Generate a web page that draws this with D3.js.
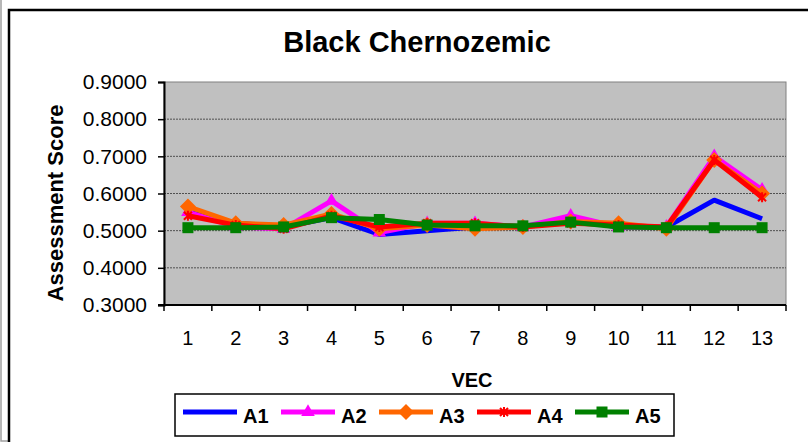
<!DOCTYPE html>
<html>
<head>
<meta charset="utf-8">
<script src="https://cdn.jsdelivr.net/npm/d3@7"></script>
<style>
  html, body { margin: 0; padding: 0; background: #fff; }
  svg { display: block; font-family: "Liberation Sans", Arial, sans-serif; }
</style>
</head>
<body>
<svg id="chart" width="808" height="442"></svg>
<script>
// VEC categories and assessment scores per alternative
const categories = ["1","2","3","4","5","6","7","8","9","10","11","12","13"];
const seriesNames = ["A1","A2","A3","A4","A5"];
const A1 = [0.550, 0.520, 0.510, 0.535, 0.490, 0.500, 0.510, 0.510, 0.530, 0.510, 0.510, 0.582, 0.532];
const A2 = [0.550, 0.510, 0.505, 0.580, 0.495, 0.520, 0.520, 0.510, 0.540, 0.510, 0.510, 0.700, 0.610];
const A3 = [0.565, 0.520, 0.515, 0.545, 0.505, 0.515, 0.505, 0.510, 0.525, 0.520, 0.505, 0.690, 0.600];
const A4 = [0.540, 0.515, 0.505, 0.540, 0.510, 0.520, 0.520, 0.510, 0.520, 0.515, 0.510, 0.690, 0.590];
const A5 = [0.508, 0.508, 0.510, 0.535, 0.530, 0.515, 0.513, 0.513, 0.523, 0.510, 0.508, 0.508, 0.508];
const yTicks = [0.3, 0.4, 0.5, 0.6, 0.7, 0.8, 0.9];
const colors = ["#0000ff", "#ff00ff", "#ff6600", "#ff0000", "#008000"];
const markers = ["none", "triangle", "diamond", "star", "square"];
const values = [A1, A2, A3, A4, A5];

const svg = d3.select("#chart");

// outer frame
svg.append("rect").attr("x", 1).attr("y", -5).attr("width", 820).attr("height", 446)
  .attr("fill", "none").attr("stroke", "#a0a0a0").attr("stroke-width", 1.5);
svg.append("rect").attr("x", 9).attr("y", 10).attr("width", 820).attr("height", 460)
  .attr("fill", "#fff").attr("stroke", "#000").attr("stroke-width", 2.5);

const plot = { left: 164, top: 82, right: 786, bottom: 305 };

const x = d3.scaleBand().domain(categories).range([plot.left, plot.right]);
const y = d3.scaleLinear().domain([0.3, 0.9]).range([plot.bottom, plot.top]);

// plot area
svg.append("rect").attr("x", plot.left).attr("y", plot.top)
  .attr("width", plot.right - plot.left).attr("height", plot.bottom - plot.top)
  .attr("fill", "#c0c0c0").attr("stroke", "#808080").attr("stroke-width", 1);

// gridlines
svg.append("g").selectAll("line").data(yTicks.filter(t => t > 0.3 && t < 0.9)).join("line")
  .attr("x1", plot.left).attr("x2", plot.right)
  .attr("y1", d => y(d)).attr("y2", d => y(d))
  .attr("stroke", "#505050").attr("stroke-width", 1).attr("stroke-dasharray", "2,1");

// y axis
const yAxis = svg.append("g").attr("transform", `translate(${plot.left},0)`)
  .call(d3.axisLeft(y).tickValues(yTicks).tickFormat(d3.format(".4f")).tickSize(6).tickPadding(11));
yAxis.attr("font-size", 21).attr("font-family", "Liberation Sans, Arial, sans-serif");
yAxis.select(".domain").attr("stroke", "#000").attr("stroke-width", 2);
yAxis.selectAll(".tick line").attr("stroke", "#000").attr("stroke-width", 1.5);
yAxis.selectAll("text").attr("fill", "#000");

// x axis: ticks between categories
const xg = svg.append("g").attr("transform", `translate(0,${plot.bottom})`);
xg.append("line").attr("x1", plot.left - 6).attr("x2", plot.right)
  .attr("stroke", "#000").attr("stroke-width", 2);
const boundaries = categories.map(c => x(c)).concat([plot.right]);
xg.selectAll("line.tk").data(boundaries).join("line").attr("class", "tk")
  .attr("x1", d => d).attr("x2", d => d).attr("y1", 0).attr("y2", 6)
  .attr("stroke", "#000").attr("stroke-width", 1.5);
xg.selectAll("text").data(categories).join("text")
  .attr("x", d => x(d) + x.bandwidth() / 2).attr("y", 40)
  .attr("text-anchor", "middle").attr("font-size", 20).text(d => d);

// series
const line = d3.line().x((d, i) => x(categories[i]) + x.bandwidth() / 2).y(d => y(d));

function drawMarker(g, type, color, cx, cy) {
  if (type === "triangle") {
    g.append("path").attr("d", d3.symbol(d3.symbolTriangle, 80)()).attr("transform", `translate(${cx},${cy})`).attr("fill", color);
  } else if (type === "diamond") {
    g.append("path").attr("d", `M${cx},${cy-8}L${cx+8},${cy}L${cx},${cy+8}L${cx-8},${cy}Z`).attr("fill", color);
  } else if (type === "square") {
    g.append("rect").attr("x", cx - 5.5).attr("y", cy - 5.5).attr("width", 11).attr("height", 11).attr("fill", color);
  } else if (type === "star") {
    g.append("path").attr("d", `M${cx-4},${cy-4}L${cx+4},${cy+4}M${cx-4},${cy+4}L${cx+4},${cy-4}M${cx},${cy-5}L${cx},${cy+5}`)
      .attr("stroke", color).attr("stroke-width", 2).attr("fill", "none");
  }
}

values.forEach((vals, s) => {
  const g = svg.append("g");
  g.append("path").datum(vals).attr("d", line).attr("fill", "none")
    .attr("stroke", colors[s]).attr("stroke-width", 5).attr("stroke-linejoin", "round");
  vals.forEach((v, i) => drawMarker(g, markers[s], colors[s], x(categories[i]) + x.bandwidth() / 2, y(v)));
});

// title and axis titles
svg.append("text").attr("x", 417).attr("y", 52).attr("text-anchor", "middle")
  .attr("font-size", 29).attr("font-weight", "bold").text("Black Chernozemic");
svg.append("text").attr("transform", "translate(63,203) rotate(-90)").attr("text-anchor", "middle")
  .attr("font-size", 22).attr("font-weight", "bold").text("Assessment Score");
svg.append("text").attr("x", 472).attr("y", 387).attr("text-anchor", "middle")
  .attr("font-size", 20).attr("font-weight", "bold").text("VEC");

// legend
const lg = svg.append("g");
lg.append("rect").attr("x", 175).attr("y", 394).attr("width", 499).attr("height", 42)
  .attr("fill", "#fff").attr("stroke", "#000").attr("stroke-width", 1.5);
seriesNames.forEach((name, s) => {
  const x0 = 183 + s * 98;
  lg.append("line").attr("x1", x0).attr("x2", x0 + 54).attr("y1", 412).attr("y2", 412)
    .attr("stroke", colors[s]).attr("stroke-width", 5);
  drawMarker(lg, markers[s], colors[s], x0 + 27, 412);
  lg.append("text").attr("x", x0 + 60).attr("y", 423).attr("font-size", 20)
    .attr("font-weight", "bold").text(name);
});
</script>
</body>
</html>
